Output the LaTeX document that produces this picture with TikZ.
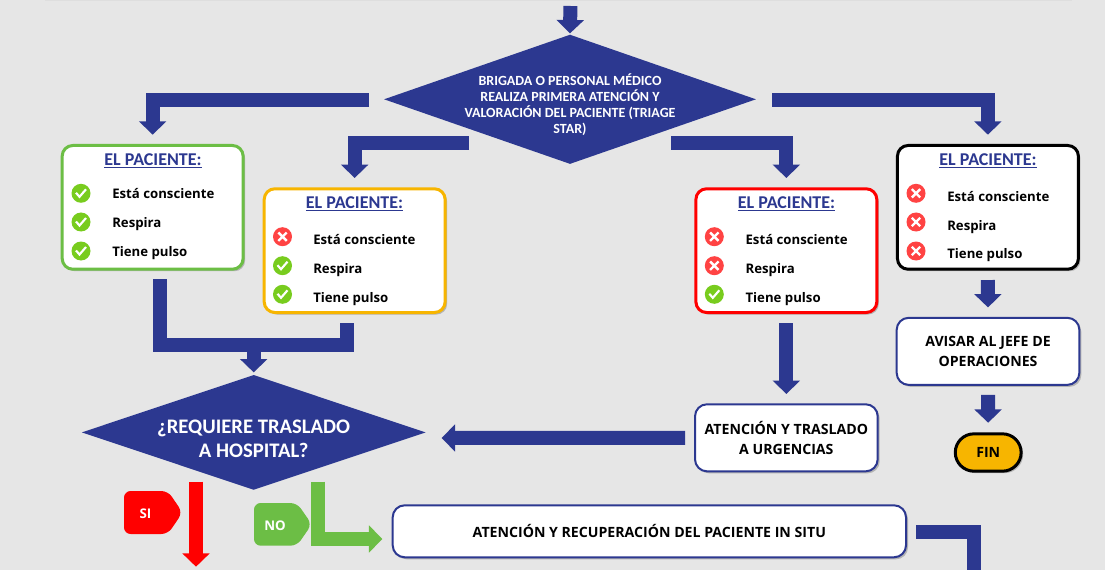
\documentclass[tikz,border=0pt]{standalone}
\usepackage{fontspec}
\setmainfont{Open Sans}
\newfontfamily\titlefont{Carlito}
\usetikzlibrary{arrows.meta,shapes.geometric,shadows}
\definecolor{navy}{HTML}{2C3890}
\definecolor{pagegray}{HTML}{E6E6E6}
\definecolor{cardgreen}{HTML}{6CBE45}
\definecolor{cardyellow}{HTML}{F7B500}
\definecolor{okgreen}{HTML}{78CC1E}
\definecolor{nored}{HTML}{FF4343}
\tikzset{
	softshadow/.style={drop shadow={shadow xshift=1.5pt,shadow yshift=-1.5pt,opacity=.22,fill=black}},
	card/.style={draw=#1,line width=2.25pt,fill=white,rounded corners=8pt,minimum width=135.7pt,minimum height=92.8pt,softshadow},
	cardtitle/.style={font=\titlefont\bfseries\fontsize{13.5}{15}\selectfont,text=navy},
	rowtext/.style={anchor=west,inner sep=0pt,text height=7.5pt,text depth=2.2pt,font=\bfseries\fontsize{9.9}{11}\selectfont},
	stepbox/.style={draw=navy,line width=1.5pt,fill=white,rounded corners=9pt,minimum width=137pt,minimum height=50.3pt,align=center,font=\bfseries\fontsize{10.6}{15}\selectfont,softshadow},
	decision/.style={diamond,fill=navy,inner sep=0pt,text=white},
	bar/.style={draw=#1,line width=10.5pt,line join=miter},
	flow/.style={bar=#1,-{Triangle[width=20pt,length=10pt]}},
	tag/.style={rounded corners=5pt},
	taglabel/.style={text=white,font=\bfseries\fontsize{10}{11}\selectfont},
	okmark/.pic={
		\fill[okgreen] (0,0) circle (9.5);
		\draw[white,line width=1.6pt] (-5,-.5) -- (-1.5,3.5) -- (5,-4);
	},
	nomark/.pic={
		\fill[nored] (0,0) circle (9.5);
		\draw[white,line width=1.8pt] (-4.2,-4.2) -- (4.2,4.2) (-4.2,4.2) -- (4.2,-4.2);
	}
}
\begin{document}
\begin{tikzpicture}[x=.75pt,y=-.75pt]
	\useasboundingbox (0,0) rectangle (1105,570);
	\fill[pagegray] (0,0) rectangle (1105,570);
	\fill[black!13] (45,-2) rectangle (1072,1);

	\node[decision,minimum width=279pt,minimum height=97pt,aspect=2.88] (triage) at (570,99.3) {};
	\node[align=center,text=white,font=\titlefont\bfseries\fontsize{10.5}{12}\selectfont] (triagetext) at (570,104.5) {BRIGADA O PERSONAL MÉDICO\\REALIZA PRIMERA ATENCIÓN Y\\VALORACIÓN DEL PACIENTE (TRIAGE\\STAR)};

	\node[card=cardgreen] (cardok) at (152.65,207.35) {};
	\node[card=cardyellow] (cardone) at (354.65,250.65) {};
	\node[card=red] (cardtwo) at (786.35,250.65) {};
	\node[card=black] (cardall) at (987.9,207.35) {};

	\node[cardtitle] (titleok) at (153,161) {\underline{EL PACIENTE:}};
	\node[cardtitle] (titleone) at (354.5,204) {\underline{EL PACIENTE:}};
	\node[cardtitle] (titletwo) at (786.5,204) {\underline{EL PACIENTE:}};
	\node[cardtitle] (titleall) at (988,161) {\underline{EL PACIENTE:}};

	\foreach \kind/\icony/\texty/\rowname/\rowlabel in {okmark/193.3/194.5/a/Está consciente,okmark/222/223.5/b/Respira,okmark/251/252.5/c/Tiene pulso}{
		\pic at (81,\icony) {\kind};
		\node[rowtext] (ok\rowname) at (112,\texty) {\rowlabel};
	}
	\foreach \kind/\icony/\texty/\rowname/\rowlabel in {nomark/236.7/240.8/a/Está consciente,okmark/265.7/269.5/b/Respira,okmark/294.3/298.5/c/Tiene pulso}{
		\pic at (282.5,\icony) {\kind};
		\node[rowtext] (one\rowname) at (313,\texty) {\rowlabel};
	}
	\foreach \kind/\icony/\texty/\rowname/\rowlabel in {nomark/236.7/240.8/a/Está consciente,nomark/265.7/269.5/b/Respira,okmark/294.3/298.5/c/Tiene pulso}{
		\pic at (714.3,\icony) {\kind};
		\node[rowtext] (two\rowname) at (745.3,\texty) {\rowlabel};
	}
	\foreach \kind/\icony/\texty/\rowname/\rowlabel in {nomark/193.3/197.5/a/Está consciente,nomark/222/226.5/b/Respira,nomark/251/255/c/Tiene pulso}{
		\pic at (916,\icony) {\kind};
		\node[rowtext] (all\rowname) at (947,\texty) {\rowlabel};
	}

	\node[stepbox] (avisar) at (988,351.35) {AVISAR AL JEFE DE\\OPERACIONES};
	\node[stepbox] (urgencias) at (786.35,437.8) {ATENCIÓN Y TRASLADO\\A URGENCIAS};
	\node[stepbox,minimum width=385pt,minimum height=39pt] (insitu) at (649.35,531.3) {ATENCIÓN Y RECUPERACIÓN DEL PACIENTE IN SITU};
	\node[draw=black,line width=2.25pt,fill=cardyellow,rounded corners=14pt,minimum width=49.4pt,minimum height=28pt,font=\bfseries\fontsize{10.6}{12}\selectfont,softshadow] (fin) at (988.2,452.5) {FIN};

	\node[decision,minimum width=258pt,minimum height=86.2pt,aspect=2.99] (hospital) at (253.7,432.4) {};
	\node[align=center,text=white,font=\titlefont\bfseries\fontsize{15.5}{17.7}\selectfont] (hospitaltext) at (253.7,438.5) {¿REQUIERE TRASLADO\\A HOSPITAL?};

	\fill[red,tag] (124,491) -- (168,491) -- (182.5,512.5) -- (168,534) -- (124,534) -- cycle;
	\node[taglabel] (silabel) at (145.5,514) {SI};
	\fill[cardgreen,tag] (254,503) -- (297,503) -- (311.8,524.3) -- (297,545.7) -- (254,545.7) -- cycle;
	\node[taglabel] (nolabel) at (275,526) {NO};

	\coordinate (topin) at (570.4,6);
	\coordinate (triageleft) at (369,99.7);
	\coordinate (triageright) at (772,99.7);
	\coordinate (triagelow) at (469,142.7);
	\coordinate (triagelowr) at (671,142.7);
	\coordinate (okout) at (160,279.3);
	\coordinate (oneout) at (347,322.7);
	\coordinate (mergeout) at (253.7,344.5);
	\coordinate (hospitalin) at (441.7,438);
	\coordinate (siout) at (196,481.7);
	\coordinate (siend) at (196,566.7);
	\coordinate (noout) at (318.3,481.7);
	\coordinate (pageend) at (973.7,580);

	\draw[flow=navy] (topin) -- ([shift={(0,-1)}]triage.north);
	\draw[flow=navy] (triageleft) -| ([shift={(0,-9.3)}]cardok.north);
	\draw[flow=navy] (triagelow) -| ([shift={(0,-9.3)}]cardone.north);
	\draw[flow=navy] (triagelowr) -| ([shift={(0,-9.3)}]cardtwo.north);
	\draw[flow=navy] (triageright) -| ([shift={(0,-9.3)}]cardall.north);
	\draw[bar=navy] (okout) |- (mergeout) -| (oneout);
	\draw[flow=navy] (mergeout) -- ([shift={(0,-2.3)}]hospital.north);
	\draw[flow=navy] ([shift={(0,9)}]cardtwo.south) -- ([shift={(0,-9.3)}]urgencias.north);
	\draw[flow=navy] ([shift={(0,9.3)}]cardall.south) -- ([shift={(0,-9.4)}]avisar.north);
	\draw[flow=navy] ([shift={(0,9)}]avisar.south) -- ([shift={(0,-9.6)}]fin.north);
	\draw[flow=navy] ([shift={(-9,0)}]urgencias.west) -- (hospitalin);
	\draw[bar=navy] ([shift={(9.3,.7)}]insitu.east) -| (pageend);
	\draw[flow=red] (siout) -- (siend);
	\draw[flow=cardgreen] (noout) |- ([shift={(-9.4,7.7)}]insitu.west);
\end{tikzpicture}
\end{document}
